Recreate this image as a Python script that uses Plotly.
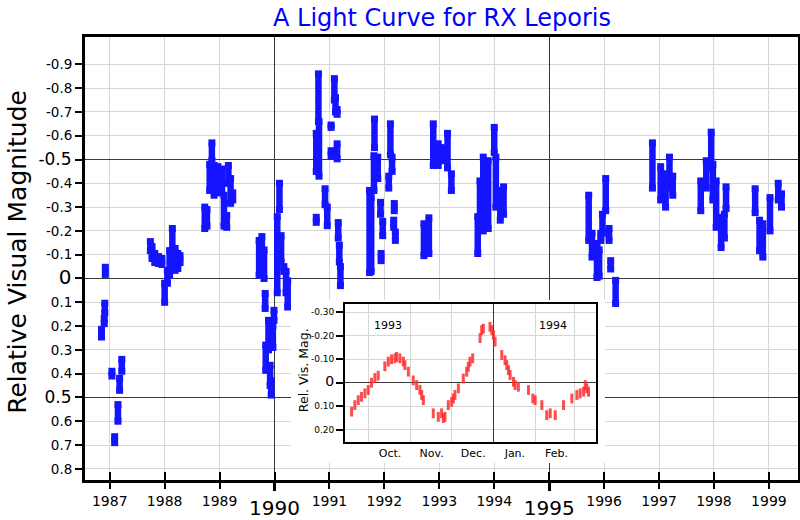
import plotly.graph_objects as go

FONT = "DejaVu Sans"

# ---- main light curve: each observing run as (decimal year, brightest, faintest) rel. magnitude ----
obs_year = [
    1986.92, 1986.91, 1986.90, 1986.85, 1987.04, 1987.22, 1987.18, 1987.15, 1987.09,
    1987.74, 1987.77, 1987.82, 1987.89, 1987.95, 1988.00, 1988.05, 1988.09, 1988.14, 1988.19, 1988.24, 1988.28,
    1988.73, 1988.77, 1988.86, 1988.82, 1988.90, 1988.97, 1989.04, 1989.08, 1989.13, 1989.16, 1989.20, 1989.24,
    1989.72, 1989.77, 1989.81, 1989.83, 1989.84, 1989.89, 1989.92, 1989.94, 1989.97, 1989.99,
    1990.05, 1990.09, 1990.12, 1990.17, 1990.21, 1990.24,
    1990.76, 1990.80, 1990.81, 1990.76, 1990.92, 1990.96, 1991.03, 1991.09, 1991.11, 1991.14, 1991.14, 1991.03,
    1991.16, 1991.18, 1991.20,
    1991.73, 1991.76, 1991.82, 1991.81, 1991.88, 1991.94, 1991.93, 1991.97, 1992.11, 1992.14, 1992.08, 1992.18,
    1992.17, 1992.20,
    1992.72, 1992.81, 1992.89, 1992.98, 1993.07, 1993.15, 1993.22,
    1993.70, 1993.74, 1993.80, 1993.89, 1994.00, 1994.03, 1994.11, 1994.17,
    1995.72, 1995.78, 1995.87, 1995.91, 1996.03, 1995.97, 1995.94, 1996.09, 1996.12, 1996.21,
    1996.88, 1997.03, 1997.12, 1997.19, 1997.25,
    1997.76, 1997.86, 1997.95, 1997.98, 1998.04, 1998.13, 1998.19, 1998.22,
    1998.75, 1998.83, 1998.89, 1999.02, 1999.17, 1999.23,
]
obs_bright = [
    -0.047, 0.104, 0.168, 0.214, 0.39, 0.34, 0.42, 0.53, 0.665,
    -0.155, -0.134, -0.105, -0.092, -0.084, 0.02, -0.034, -0.117, -0.21, -0.126, -0.105, -0.096,
    -0.30, -0.29, -0.57, -0.48, -0.475, -0.47, -0.46, -0.35, -0.265, -0.475, -0.42, -0.36,
    -0.16, -0.176, -0.12, 0.063, 0.28, 0.176, 0.365, 0.43, 0.20, 0.134,
    -0.26, -0.40, -0.18, -0.05, -0.03, 0.01,
    -0.61, -0.86, -0.66, -0.257, -0.377, -0.30, -0.645, -0.84, -0.76, -0.71, -0.566, -0.537,
    -0.235, -0.14, -0.05,
    -0.37, -0.34, -0.67, -0.516, -0.51, -0.105, -0.32, -0.24, -0.65, -0.51, -0.43, -0.315,
    -0.245, -0.195,
    -0.23, -0.255, -0.65, -0.566, -0.55, -0.61, -0.44,
    -0.26, -0.41, -0.51, -0.495, -0.635, -0.51, -0.37, -0.385,
    -0.35, -0.19, -0.147, -0.12, -0.42, -0.27, -0.19, -0.21, -0.075, 0.008,
    -0.57, -0.47, -0.44, -0.51, -0.43,
    -0.41, -0.495, -0.615, -0.48, -0.41, -0.257, -0.27, -0.385,
    -0.377, -0.245, -0.23, -0.34, -0.40, -0.356,
]
obs_faint = [
    -0.017, 0.145, 0.19, 0.246, 0.41, 0.39, 0.47, 0.60, 0.69,
    -0.117, -0.084, -0.067, -0.063, -0.059, 0.10, 0.02, -0.013, -0.117, -0.034, -0.042, -0.067,
    -0.21, -0.22, -0.495, -0.37, -0.35, -0.36, -0.37, -0.22, -0.215, -0.40, -0.316, -0.33,
    -0.013, -0.055, 0.0, 0.126, 0.386, 0.30, 0.45, 0.49, 0.29, 0.176,
    0.06, -0.29, -0.07, -0.03, 0.06, 0.12,
    -0.45, -0.66, -0.43, -0.236, -0.31, -0.222, -0.635, -0.75, -0.70, -0.69, -0.503, -0.516,
    -0.17, -0.07, 0.03,
    -0.025, -0.03, -0.55, -0.37, -0.42, -0.075, -0.27, -0.18, -0.52, -0.45, -0.38, -0.285,
    -0.215, -0.16,
    -0.096, -0.105, -0.475, -0.475, -0.495, -0.465, -0.37,
    -0.105, -0.215, -0.2, -0.21, -0.53, -0.30, -0.245, -0.27,
    -0.16, -0.09, -0.004, -0.01, -0.285, -0.19, -0.16, -0.16, -0.04, 0.105,
    -0.38, -0.33, -0.30, -0.38, -0.35,
    -0.285, -0.38, -0.465, -0.33, -0.215, -0.13, -0.17, -0.294,
    -0.277, -0.117, -0.09, -0.20, -0.33, -0.30,
]

# ---- inset: 1993/94 season, days relative to 1994-01-01 ----
inset_day = [
    -104.2, -101.8, -99.3, -96.9, -94.4, -92.0, -89.6, -87.1, -84.7, -79.8, -77.3, -74.9, -72.4, -71.2,
    -68.8, -66.3, -65.1, -62.6, -59.0, -56.5, -54.1, -52.8, -51.6,
    -44.3, -40.6, -38.2, -36.9, -35.7, -33.3, -30.8, -29.6, -28.4, -25.9, -22.3, -19.8, -18.6, -17.4, -15.4,
    -10.0, -8.8, -7.6, -2.7, -1.4, -0.2, 1.0,
    5.9, 8.3, 9.6, 10.8, 12.0, 14.5, 15.7, 18.1, 25.5, 28.7, 30.4, 35.3, 38.9, 41.4, 45.1,
    51.2, 57.3, 61.0, 63.4, 65.9, 67.1, 68.3, 69.5,
]
inset_mag = [
    0.123, 0.095, 0.074, 0.06, 0.045, 0.031, 0.0, -0.02, -0.03, -0.07, -0.09, -0.10, -0.104, -0.11,
    -0.104, -0.09, -0.075, -0.047, -0.01, 0.01, 0.03, 0.052, 0.074,
    0.13, 0.145, 0.13, 0.15, 0.145, 0.095, 0.081, 0.067, 0.052, 0.024, -0.018, -0.047, -0.068, -0.09, -0.104,
    -0.19, -0.224, -0.23, -0.238, -0.224, -0.203, -0.175,
    -0.118, -0.096, -0.075, -0.054, -0.033, -0.004, 0.01, 0.017, 0.031, 0.067, 0.074, 0.095, 0.138, 0.13, 0.138,
    0.095, 0.067, 0.052, 0.045, 0.038, 0.01, 0.024, 0.038,
]

# ---- tick labels ----
years = list(range(1987, 2000))
major_years = [1990, 1995]
mag_ticks = [-0.9, -0.8, -0.7, -0.6, -0.5, -0.4, -0.3, -0.2, -0.1, 0.0,
             0.1, 0.2, 0.3, 0.4, 0.5, 0.6, 0.7, 0.8]
major_mags = [-0.5, 0.0, 0.5]
inset_mag_ticks = [-0.3, -0.2, -0.1, 0.0, 0.1, 0.2]
month_labels = ["Oct.", "Nov.", "Dec.", "Jan.", "Feb."]
month_mid_day = [-76, -45.5, -15, 15.5, 46]
month_start_day = [-92, -61, -31, 0, 31, 59]
inset_year_labels = ["1993", "1994"]
inset_year_day = [-77.5, 43.6]

# ---- geometry ----
X_RANGE = [1986.55, 1999.53]
Y_RANGE = [0.847, -1.015]
INSET_X = [0.3647, 0.7167]
INSET_Y = [0.0858, 0.3973]
BOX_X = [0.2889, 0.7293]
BOX_Y = [0.0384, 0.4063]
LIGHT = "#d6d6d6"
DARK = "#3a3a3a"
BLUE = "rgb(20,20,255)"
RED = "rgba(255,45,45,0.85)"

# segments for the main curve
seg_x, seg_y = [], []
for t, b, f in zip(obs_year, obs_bright, obs_faint):
    seg_x += [t, t, None]
    seg_y += [b, f, None]

fig = go.Figure()
fig.add_trace(go.Scatter(x=seg_x, y=seg_y, mode="lines+markers",
                         line=dict(color=BLUE, width=6.5),
                         marker=dict(symbol="square", size=7, color=BLUE),
                         xaxis="x", yaxis="y", showlegend=False, hoverinfo="skip"))
# overlay helper subplots (dark grid / inner ticks)
fig.add_trace(go.Scatter(x=[None], y=[None], xaxis="x5", yaxis="y", showlegend=False))
fig.add_trace(go.Scatter(x=[None], y=[None], xaxis="x6", yaxis="y", showlegend=False))
fig.add_trace(go.Scatter(x=[None], y=[None], xaxis="x", yaxis="y4", showlegend=False))
# white backing for the inset
fig.add_trace(go.Scatter(x=[None], y=[None], xaxis="x2", yaxis="y2", showlegend=False))
# inset curve
fig.add_trace(go.Scatter(x=inset_day, y=inset_mag, mode="markers",
                         marker=dict(symbol="line-ns", size=7, line=dict(width=3, color=RED)),
                         xaxis="x3", yaxis="y3", showlegend=False, hoverinfo="skip"))

small_years = [y for y in years if y not in major_years]
small_mags = [m for m in mag_ticks if m not in major_mags]

def mag_text(v):
    return "0" if v == 0 else f"{v:.1f}"

def inset_text(v):
    return "<span style='font-size:14px'>0</span>" if v == 0 else f"{v:.2f}"

tickfont = dict(family=FONT, color="black")

fig.update_layout(
    width=800, height=520,
    margin=dict(l=85, r=2, t=37, b=40, autoexpand=False),
    paper_bgcolor="white", plot_bgcolor="white",
    title=dict(text="A Light Curve for RX Leporis", x=0.5525, xanchor="center",
               y=0.966, yanchor="middle", yref="container",
               font=dict(family=FONT, size=24, color="#0000ff")),
    xaxis=dict(domain=[0, 1], range=X_RANGE, anchor="y", automargin=False,
               tickmode="array", tickvals=small_years, ticktext=[str(y) for y in small_years],
               tickfont=dict(size=14, **tickfont), ticks="outside", ticklen=6, tickwidth=1.5,
               tickcolor="black", showgrid=True, gridcolor=LIGHT, gridwidth=1.3,
               showline=True, linecolor="black", linewidth=3, mirror=True, zeroline=False),
    xaxis5=dict(overlaying="x", anchor="y", side="bottom", range=X_RANGE, automargin=False,
                tickmode="array", tickvals=major_years, ticktext=[str(y) for y in major_years],
                tickfont=dict(size=20, **tickfont), ticks="outside", ticklen=10, tickwidth=3,
                tickcolor="black", showgrid=True, gridcolor=DARK, gridwidth=1.2,
                showline=False, zeroline=False),
    xaxis6=dict(overlaying="x", anchor="y", side="bottom", range=X_RANGE, automargin=False,
                tickmode="array", tickvals=years, showticklabels=False,
                ticks="inside", ticklen=8, tickwidth=1.5, tickcolor="black",
                showgrid=False, showline=False, zeroline=False),
    yaxis=dict(domain=[0, 1], range=Y_RANGE, anchor="x", automargin=False,
               tickmode="array", tickvals=small_mags, ticktext=[mag_text(m) for m in small_mags],
               tickfont=dict(size=13.5, **tickfont), ticks="outside", ticklen=7, tickwidth=1.5,
               tickcolor="black", showgrid=True, gridcolor=LIGHT, gridwidth=1.3,
               showline=True, linecolor="black", linewidth=3, mirror=True, zeroline=False),
    yaxis4=dict(overlaying="y", anchor="x", side="left", range=Y_RANGE, automargin=False,
                tickmode="array", tickvals=major_mags,
                ticktext=["<span style='font-size:20px'>0</span>" if m == 0 else mag_text(m) for m in major_mags],
                tickfont=dict(size=17, **tickfont), ticks="outside", ticklen=9, tickwidth=2,
                tickcolor="black", showgrid=True, gridcolor=DARK, gridwidth=1.2,
                showline=False, zeroline=False),
    xaxis2=dict(domain=BOX_X, anchor="y2", range=[0, 1], visible=False),
    yaxis2=dict(domain=BOX_Y, anchor="x2", range=[0, 1], visible=False),
    xaxis3=dict(domain=INSET_X, anchor="y3", range=[-109, 75], automargin=False,
                tickmode="array", tickvals=month_mid_day, ticktext=month_labels,
                tickfont=dict(size=11, **tickfont), ticks="", showgrid=False,
                minor=dict(tickmode="array", tickvals=month_start_day, showgrid=True,
                           gridcolor=LIGHT, gridwidth=1.2, ticks=""),
                zeroline=True, zerolinecolor=DARK, zerolinewidth=1.2,
                showline=True, linecolor="black", linewidth=2, mirror=True),
    yaxis3=dict(domain=INSET_Y, anchor="x3", range=[0.252, -0.335], automargin=False,
                tickmode="array", tickvals=inset_mag_ticks,
                ticktext=[inset_text(v) for v in inset_mag_ticks],
                tickfont=dict(size=9, **tickfont), ticks="outside", ticklen=7, tickwidth=1.5,
                tickcolor="black", showgrid=True, gridcolor=LIGHT, gridwidth=1.2,
                zeroline=True, zerolinecolor=DARK, zerolinewidth=1.2,
                showline=True, linecolor="black", linewidth=2, mirror=True),
)

annotations = [
    dict(text="Relative Visual Magnitude", textangle=-90, x=-0.094, y=0.515,
         xref="paper", yref="paper", xanchor="center", yanchor="middle", showarrow=False,
         font=dict(family=FONT, size=25, color="black")),
    dict(text="Rel. Vis. Mag.", textangle=-90, x=0.3058, y=0.248,
         xref="paper", yref="paper", xanchor="center", yanchor="middle", showarrow=False,
         font=dict(family=FONT, size=12.5, color="black")),
]
for lab, d in zip(inset_year_labels, inset_year_day):
    annotations.append(dict(text=lab, x=d, y=-0.245, xref="x3", yref="y3", showarrow=False,
                            xanchor="center", yanchor="middle",
                            font=dict(family=FONT, size=11, color="black")))
fig.update_layout(annotations=annotations)

fig.write_html("out.html")
